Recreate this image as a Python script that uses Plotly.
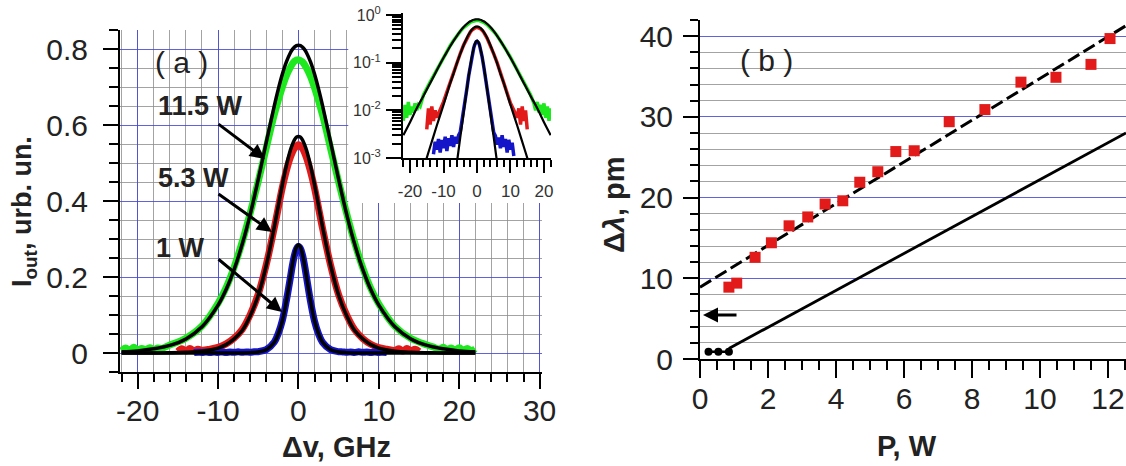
import plotly.graph_objects as go

# ---------------- data: panel (a) ----------------
nu = [-22, -20, -18, -16, -14, -12, -10, -9, -8, -7, -6, -5, -4, -3, -2.5, -2, -1.5, -1, -0.75, -0.5, -0.25, 0,
      0.25, 0.5, 0.75, 1, 1.5, 2, 2.5, 3, 4, 5, 6, 7, 8, 9, 10, 12, 14, 16, 18, 20, 22]
green_fit = [0.0030, 0.0056, 0.011, 0.020, 0.037, 0.069, 0.126, 0.167, 0.220, 0.286, 0.365, 0.457, 0.555, 0.651,
             0.695, 0.734, 0.766, 0.790, 0.799, 0.805, 0.809, 0.810, 0.809, 0.805, 0.799, 0.790, 0.766, 0.734,
             0.695, 0.651, 0.555, 0.457, 0.365, 0.286, 0.220, 0.167, 0.126, 0.069, 0.037, 0.020, 0.011, 0.0056, 0.0030]
red_fit = [0.00003, 0.00008, 0.0002, 0.0006, 0.0017, 0.0048, 0.013, 0.022, 0.037, 0.059, 0.098, 0.152, 0.231, 0.332,
           0.388, 0.443, 0.493, 0.534, 0.549, 0.561, 0.568, 0.570, 0.568, 0.561, 0.549, 0.534, 0.493, 0.443,
           0.388, 0.332, 0.231, 0.152, 0.098, 0.059, 0.037, 0.022, 0.013, 0.0048, 0.0017, 0.0006, 0.0002, 0.00008, 0.00003]
blue_fit = [0.00001, 0.00001, 0.00001, 0.00001, 0.00001, 0.00001, 0.00001, 0.00002, 0.00007, 0.00024, 0.0008, 0.0027,
            0.0088, 0.0285, 0.051, 0.085, 0.137, 0.201, 0.233, 0.260, 0.279, 0.285, 0.279, 0.260, 0.233, 0.201,
            0.137, 0.085, 0.051, 0.0285, 0.0088, 0.0027, 0.0008, 0.00024, 0.00007, 0.00002, 0.00001, 0.00001,
            0.00001, 0.00001, 0.00001, 0.00001, 0.00001]

nu_g = [-22, -21.5, -21, -20.5, -20, -19.5, -19, -18.5, -18, -17.5, -17, -16, -14, -12, -10, -9, -8, -7, -6, -5, -4,
        -3, -2, -1.5, -1, -0.5, 0, 0.5, 1, 1.5, 2, 3, 4, 5, 6, 7, 8, 9, 10, 12, 14, 16, 17, 17.5, 18, 18.5, 19,
        19.5, 20, 20.5, 21, 21.5, 22]
g_meas = [0.006, 0.013, 0.007, 0.015, 0.008, 0.012, 0.009, 0.014, 0.010, 0.013, 0.012, 0.021, 0.039, 0.071, 0.131,
          0.172, 0.226, 0.292, 0.369, 0.452, 0.540, 0.628, 0.700, 0.730, 0.752, 0.768, 0.772, 0.766, 0.750, 0.728,
          0.698, 0.626, 0.538, 0.450, 0.367, 0.290, 0.224, 0.170, 0.129, 0.070, 0.038, 0.021, 0.014, 0.010, 0.015,
          0.009, 0.013, 0.008, 0.014, 0.007, 0.012, 0.006, 0.011]

nu_r = [-15, -14.5, -14, -13.5, -13, -12.5, -12, -11, -10, -9, -8, -7, -6, -5, -4, -3, -2, -1.5, -1, -0.5, 0,
        0.5, 1, 1.5, 2, 3, 4, 5, 6, 7, 8, 9, 10, 11, 12, 12.5, 13, 13.5, 14, 14.5, 15]
r_meas = [0.004, 0.011, 0.005, 0.012, 0.006, 0.010, 0.007, 0.010, 0.015, 0.024, 0.039, 0.062, 0.101, 0.155, 0.233,
          0.330, 0.436, 0.480, 0.515, 0.538, 0.548, 0.538, 0.514, 0.478, 0.434, 0.328, 0.231, 0.153, 0.100, 0.061,
          0.038, 0.023, 0.014, 0.010, 0.007, 0.011, 0.005, 0.012, 0.006, 0.010, 0.004]

nu_b = [-13, -12.5, -12, -11.5, -11, -10.5, -10, -9.5, -9, -8.5, -8, -7.5, -7, -6.5, -6, -5.5, -5, -4, -3, -2.5,
        -2, -1.5, -1, -0.75, -0.5, -0.25, 0, 0.25, 0.5, 0.75, 1, 1.5, 2, 2.5, 3, 4, 5, 5.5, 6, 6.5, 7, 7.5, 8,
        8.5, 9, 9.5, 10, 10.5, 11]
b_meas = [0.0012, 0.0022, 0.0015, 0.0025, 0.0013, 0.0024, 0.0016, 0.0028, 0.0014, 0.0026, 0.0018, 0.0030, 0.0017,
          0.0028, 0.0020, 0.0030, 0.0035, 0.0090, 0.029, 0.052, 0.086, 0.138, 0.199, 0.231, 0.257, 0.274, 0.280,
          0.275, 0.258, 0.232, 0.200, 0.136, 0.084, 0.050, 0.028, 0.0088, 0.0034, 0.0029, 0.0019, 0.0027, 0.0016,
          0.0030, 0.0017, 0.0025, 0.0013, 0.0024, 0.0015, 0.0021, 0.0011]

nu_ticks = [-20, -10, 0, 10, 20, 30]
nu_tick_text = ["-20", "-10", "0", "10", "20", "30"]
inset_ticks = [-20, -10, 0, 10, 20]
inset_tick_text = ["-20", "-10", "0", "10", "20"]
log_ticks = [0.001, 0.01, 0.1, 1]
log_tick_text = ["10<sup>-3</sup>", "10<sup>-2</sup>", "10<sup>-1</sup>", "10<sup>0</sup>"]

# ---------------- data: panel (b) ----------------
P_meas = [0.85, 1.08, 1.62, 2.1, 2.62, 3.17, 3.68, 4.2, 4.7, 5.23, 5.76, 6.3, 7.33, 8.38, 9.44, 10.47, 11.5, 12.06]
dl_meas = [8.9, 9.4, 12.6, 14.4, 16.5, 17.6, 19.2, 19.6, 21.9, 23.2, 25.7, 25.8, 29.4, 30.9, 34.3, 34.9, 36.5, 39.7]
P_dash = [0, 12.53]
dl_dash = [8.9, 41.3]
P_calc = [0.25, 0.54, 0.85]
dl_calc = [0.9, 0.9, 0.9]
P_line = [0.85, 12.53]
dl_line = [1.3, 28.0]

power_labels = ["11.5 W", "5.3 W", "1 W"]

# ---------------- style ----------------
FONT = "Liberation Sans, Arial, sans-serif"
BLUE = "rgba(70,70,215,0.85)"
GREY = "rgba(140,140,140,0.8)"
GREEN = "#1ee81e"
RED = "#e21a1a"
DBLUE = "#1414c8"
W, H = 1126, 466


def px(x):
    return x / W


def py(y):
    return 1 - y / H


fig = go.Figure()

# panel (a) main
for xs, ys, c in [(nu_g, g_meas, GREEN), (nu_r, r_meas, RED), (nu_b, b_meas, DBLUE)]:
    fig.add_trace(go.Scatter(x=xs, y=ys, mode="lines", line=dict(color=c, width=7, shape="spline"),
                             xaxis="x", yaxis="y", hoverinfo="skip"))
for ys in [green_fit, red_fit, blue_fit]:
    fig.add_trace(go.Scatter(x=nu, y=ys, mode="lines", line=dict(color="black", width=3.5, shape="spline"),
                             xaxis="x", yaxis="y", hoverinfo="skip"))

# inset
for xs, ys, c in [(nu_g, g_meas, GREEN), (nu_r, r_meas, RED), (nu_b, b_meas, DBLUE)]:
    fig.add_trace(go.Scatter(x=xs, y=ys, mode="lines", line=dict(color=c, width=3.5),
                             xaxis="x2", yaxis="y2", hoverinfo="skip"))
for ys in [green_fit, red_fit, blue_fit]:
    fig.add_trace(go.Scatter(x=nu, y=ys, mode="lines", line=dict(color="black", width=2.2, shape="spline"),
                             xaxis="x2", yaxis="y2", hoverinfo="skip"))

# panel (b)
fig.add_trace(go.Scatter(x=P_dash, y=dl_dash, mode="lines", line=dict(color="black", width=3, dash="13px,5px"),
                         xaxis="x3", yaxis="y3"))
fig.add_trace(go.Scatter(x=P_line, y=dl_line, mode="lines", line=dict(color="black", width=2.8),
                         xaxis="x3", yaxis="y3"))
fig.add_trace(go.Scatter(x=P_calc, y=dl_calc, mode="lines+markers", line=dict(color="black", width=2.5),
                         marker=dict(color="black", size=8, symbol="circle"), xaxis="x3", yaxis="y3"))
fig.add_trace(go.Scatter(x=P_meas, y=dl_meas, mode="markers",
                         marker=dict(color=RED, size=11, symbol="square", line=dict(width=0)),
                         xaxis="x3", yaxis="y3"))

axcommon = dict(showline=True, linecolor="black", linewidth=2, ticks="outside", tickwidth=2, tickcolor="black",
                zeroline=False, automargin=False, tickfont=dict(family=FONT, size=30, color="#222"))

fig.update_layout(
    width=W, height=H, margin=dict(l=0, r=0, t=0, b=0, pad=0, autoexpand=False), autosize=False,
    paper_bgcolor="white", plot_bgcolor="white", showlegend=False,
    font=dict(family=FONT, color="#222"),
    xaxis=dict(domain=[px(120), px(542)], anchor="y", range=[-22.2, 30.3], tickvals=nu_ticks,
               ticktext=nu_tick_text, ticklen=15, showgrid=True, gridcolor=BLUE, gridwidth=1, ticklabelstandoff=-4,
               minor=dict(tick0=0, dtick=2, ticks="outside", ticklen=8, tickwidth=2, tickcolor="black",
                          showgrid=True, gridcolor=GREY, gridwidth=1), **axcommon),
    yaxis=dict(domain=[py(372), py(30)], anchor="x", range=[-0.05, 0.85], tickmode="linear", tick0=0, dtick=0.2,
               ticklen=15, showgrid=True, gridcolor=BLUE, gridwidth=1, ticklabelstandoff=9,
               minor=dict(tick0=0, dtick=0.05, ticks="outside", ticklen=9, tickwidth=2, tickcolor="black",
                          showgrid=True, gridcolor=GREY, gridwidth=1), **axcommon),
    xaxis2=dict(domain=[px(403), px(551)], anchor="y2", range=[-22.1, 22.1], tickvals=inset_ticks,
                ticktext=inset_tick_text, ticklen=13, showgrid=False, ticklabelstandoff=4,
                minor=dict(tick0=0, dtick=2, ticks="outside", ticklen=7, tickwidth=1.5, tickcolor="black"),
                **{**axcommon, "tickfont": dict(family=FONT, size=17, color="#333")}),
    yaxis2=dict(domain=[py(158), py(13)], anchor="x2", type="log", range=[-3, 0.04],
                tickvals=log_ticks, ticktext=log_tick_text,
                ticklen=15, showgrid=False, ticklabelstandoff=2,
                minor=dict(tickvals=[2e-3, 3e-3, 4e-3, 5e-3, 6e-3, 7e-3, 8e-3, 9e-3,
                                     2e-2, 3e-2, 4e-2, 5e-2, 6e-2, 7e-2, 8e-2, 9e-2,
                                     0.2, 0.3, 0.4, 0.5, 0.6, 0.7, 0.8, 0.9],
                           ticks="outside", ticklen=9, tickwidth=1.5, tickcolor="black"),
                **{**axcommon, "tickfont": dict(family=FONT, size=16, color="#333")}),
    xaxis3=dict(domain=[px(700), 1.0], anchor="y3", range=[0, 12.53], tickmode="linear", tick0=0, dtick=2,
                ticklen=17, showgrid=False, ticklabelstandoff=-5,
                minor=dict(tick0=0, dtick=0.5, ticks="outside", ticklen=9, tickwidth=2, tickcolor="black"),
                **axcommon),
    yaxis3=dict(domain=[py(359), py(20)], anchor="x3", range=[0, 42], tickmode="linear", tick0=0, dtick=10,
                ticklen=15, showgrid=True, gridcolor=BLUE, gridwidth=1, ticklabelstandoff=4,
                minor=dict(tick0=0, dtick=2, ticks="outside", ticklen=8, tickwidth=2, tickcolor="black",
                           showgrid=True, gridcolor=GREY, gridwidth=1), **axcommon),
)

# white area behind the inset (hides panel (a) grid there)
fig.add_shape(type="rect", xref="x", yref="y", x0=6.2, x1=31, y0=0.395, y1=0.9,
              fillcolor="white", line=dict(width=0), layer="between")

anns = []


def txt(t, x, y, size, angle=0):
    anns.append(dict(text=t, x=px(x), y=py(y), xref="paper", yref="paper", showarrow=False,
                     xanchor="center", yanchor="middle", textangle=angle,
                     font=dict(family=FONT, size=size, color="#222")))


def arrow(tip, tail):
    anns.append(dict(text="", x=px(tip[0]), y=py(tip[1]), xref="paper", yref="paper", showarrow=True,
                     ax=tail[0] - tip[0], ay=tail[1] - tip[1], arrowhead=2, arrowsize=1.0, arrowwidth=3,
                     arrowcolor="black", standoff=0))


txt("<b>Δv, GHz</b>", 336, 447, 29)
txt("<b>P, W</b>", 907, 446, 29)
txt("<b>I<sub>out</sub>, urb. un.</b>", 24, 212, 27, -90)
txt("<b>Δ<i>λ</i>, pm</b>", 614, 205, 29, -90)
txt("( a )", 181, 62, 30)
txt("( b )", 766, 61, 30)
txt("<b>" + power_labels[0] + "</b>", 200, 106, 27)
txt("<b>" + power_labels[1] + "</b>", 193, 178, 27)
txt("<b>" + power_labels[2] + "</b>", 180, 248, 27)
arrow((265, 159), (217, 123))
arrow((272, 232), (217, 193))
arrow((282, 312), (217, 258))
arrow((703, 315), (738, 315))
fig.update_layout(annotations=anns)

fig.write_html("out.html", config={"displayModeBar": False},
               post_script="document.body.style.margin='0';document.body.style.overflow='hidden';")
